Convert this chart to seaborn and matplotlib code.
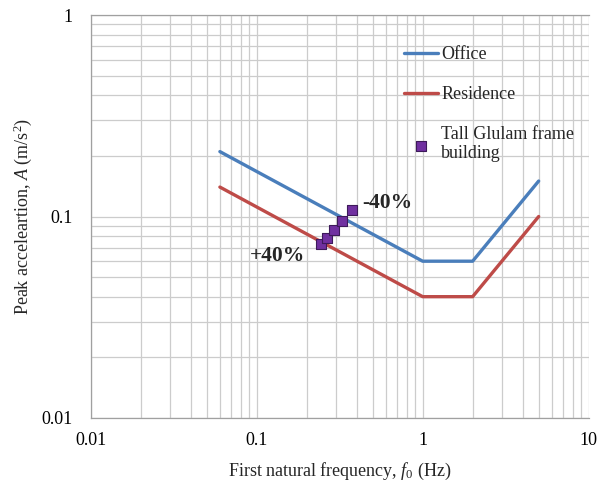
import matplotlib
matplotlib.use("Agg")
import matplotlib.pyplot as plt
import matplotlib.ticker as mticker
import seaborn as sns

# design limits (first natural frequency in Hz, peak acceleration in m/s2)
office_f = [0.06, 1, 2, 5]
office_a = [0.21, 0.06, 0.06, 0.15]
residence_f = [0.06, 1, 2, 5]
residence_a = [0.14, 0.04, 0.04, 0.10]

# tall glulam frame building, stiffness varied from +40% to -40%
glulam_f = [0.245, 0.264, 0.291, 0.325, 0.377]
glulam_a = [0.073, 0.0785, 0.0857, 0.0953, 0.1077]

tick_vals = [0.01, 0.1, 1, 10]

sns.set_theme(style="white")
plt.rcParams["font.family"] = ["Liberation Serif", "DejaVu Serif"]
plt.rcParams["mathtext.fontset"] = "custom"
plt.rcParams["mathtext.rm"] = "Liberation Serif"
plt.rcParams["mathtext.it"] = "Liberation Serif:italic"

fig = plt.figure(figsize=(5.97, 4.86), dpi=100)
ax = fig.add_axes([0.152, 0.140, 0.834, 0.829])

sns.lineplot(x=office_f, y=office_a, sort=False, estimator=None, color="#4a7ebb",
             linewidth=2.4, label="Office", ax=ax)
sns.lineplot(x=residence_f, y=residence_a, sort=False, estimator=None, color="#be4b48",
             linewidth=2.4, label="Residence", ax=ax)
sns.scatterplot(x=glulam_f, y=glulam_a, marker="s", s=50, color="#7030a0",
                edgecolor="#3d1a5a", linewidth=0.8, zorder=5,
                label="Tall Glulam frame\nbuilding", ax=ax)

ax.set_xscale("log")
ax.set_yscale("log")
ax.set_xlim(0.01, 10)
ax.set_ylim(0.01, 1)
ax.xaxis.set_major_locator(mticker.FixedLocator(tick_vals))
ax.xaxis.set_major_formatter(mticker.FixedFormatter(["0.01", "0.1", "1", "10"]))
ax.yaxis.set_major_locator(mticker.FixedLocator(tick_vals[:3]))
ax.yaxis.set_major_formatter(mticker.FixedFormatter(["0.01", "0.1", "1"]))
ax.xaxis.set_minor_locator(mticker.LogLocator(base=10, subs=range(2, 10)))
ax.yaxis.set_minor_locator(mticker.LogLocator(base=10, subs=range(2, 10)))
ax.xaxis.set_minor_formatter(mticker.NullFormatter())
ax.yaxis.set_minor_formatter(mticker.NullFormatter())
ax.grid(True, which="both", color="#cccccc", linewidth=0.9)
ax.set_axisbelow(True)
ax.tick_params(which="both", length=0, labelsize=13, colors="black")
ax.tick_params(axis="y", pad=13)
ax.tick_params(axis="x", pad=10)

for side in ["right"]:
    ax.spines[side].set_visible(False)
for side in ["left", "bottom", "top"]:
    ax.spines[side].set_color("#a0a0a0")
    ax.spines[side].set_linewidth(0.9)

ax.set_xlabel("First natural frequency, $f_0$ (Hz)", fontsize=13, labelpad=9)
ax.set_ylabel("Peak acceleartion, $A$ (m/s$^2$)", fontsize=13, labelpad=5)

ax.text(0.435, 0.117, "-40%", fontsize=15.5, fontweight="bold", ha="left", va="center")
ax.text(0.197, 0.0637, "+40%", fontsize=15.5, fontweight="bold", ha="right", va="center")

leg = ax.legend(loc="upper left", bbox_to_anchor=(0.615, 0.94), frameon=False,
                fontsize=13, handlelength=1.9, handletextpad=0.15,
                labelspacing=1.25, borderaxespad=0)

fig.savefig("out.png", dpi=100)
plt.close(fig)
